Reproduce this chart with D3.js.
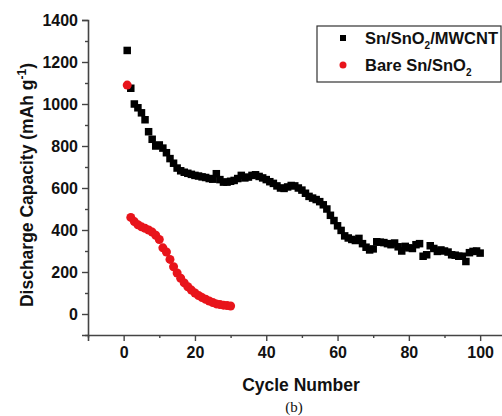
<!DOCTYPE html>
<html>
<head>
<meta charset="utf-8">
<script src="https://d3js.org/d3.v7.min.js"></script>
<style>
body{margin:0;background:#fff;}
svg text{font-family:"Liberation Sans",Arial,sans-serif;}
</style>
</head>
<body>
<svg id="chart" width="502" height="416"></svg>
<script>
// discharge capacity vs cycle
var cyclesMwcnt = d3.range(1, 101);
var capMwcnt = [1255,1075,1000,982,958,925,868,832,800,805,
	790,768,740,718,695,682,675,670,665,660,
	657,653,650,645,642,668,640,628,628,632,
	636,645,660,648,652,660,663,655,648,640,
	630,622,610,600,598,605,612,610,600,590,
	575,560,552,545,535,520,500,470,445,420,
	398,372,362,355,350,360,335,318,305,310,
	344,342,340,335,330,338,320,300,322,315,
	312,330,335,275,282,325,312,298,305,300,
	295,282,280,275,275,250,292,298,300,290];

var cyclesBare = d3.range(1, 31);
var capBare = [1090,460,440,425,415,408,400,390,375,355,
	315,295,260,225,195,170,148,130,114,100,
	88,78,70,62,55,48,45,42,40,38];

var xTicks = [0,20,40,60,80,100];
var yTicks = [0,200,400,600,800,1000,1200,1400];

var svg = d3.select("#chart");
var plotLeft = 88, plotTop = 20, plotBottom = 335;

var x = d3.scaleLinear().domain([-10,110]).range([plotLeft, plotLeft + 120*3.565]);
var y = d3.scaleLinear().domain([-100,1400]).range([plotBottom, plotTop]);

var axisColor = "#444";

// y axis
svg.append("g").attr("transform","translate("+plotLeft+",0)")
	.call(d3.axisLeft(y).tickValues(yTicks).tickSize(6).tickPadding(4).tickFormat(d3.format("d")));
svg.append("g").attr("transform","translate("+plotLeft+",0)")
	.call(d3.axisLeft(y).tickValues(d3.range(-100,1400,200)).tickSize(3).tickFormat(""))
	.select(".domain").remove();

// x axis
svg.append("g").attr("transform","translate(0,"+plotBottom+")")
	.call(d3.axisBottom(x).tickValues(xTicks).tickSize(6).tickPadding(6).tickFormat(d3.format("d")));
svg.append("g").attr("transform","translate(0,"+plotBottom+")")
	.call(d3.axisBottom(x).tickValues(d3.range(-10,111,20)).tickSize(3).tickFormat(""))
	.select(".domain").remove();

svg.selectAll(".domain").attr("stroke",axisColor).attr("stroke-width",1.6);
svg.selectAll(".tick line").attr("stroke",axisColor).attr("stroke-width",1.4);
svg.selectAll(".tick text").attr("fill","#111").style("font-size","16px").style("font-weight","bold")
	.style("font-family","'Liberation Sans',Arial,sans-serif");

// axis titles
svg.append("text").attr("x",301).attr("y",391).attr("text-anchor","middle")
	.style("font-size","17.5px").style("font-weight","bold").attr("fill","#111")
	.text("Cycle Number");

var yl = svg.append("text").attr("transform","translate(33,185) rotate(-90)")
	.attr("text-anchor","middle").style("font-size","17.5px").style("font-weight","bold").attr("fill","#111");
yl.append("tspan").text("Discharge Capacity (mAh g");
yl.append("tspan").attr("dy",-7).style("font-size","12px").text("-1");
yl.append("tspan").attr("dy",7).text(")");

svg.append("text").attr("x",294).attr("y",412).attr("text-anchor","middle")
	.style("font-family","'Liberation Serif','Times New Roman',serif").style("font-size","15px").attr("fill","#111")
	.text("(b)");

// series
var sq = 7.5;
svg.append("g").selectAll("rect")
	.data(cyclesMwcnt)
	.enter().append("rect")
	.attr("x", function(d,i){ return x(d) - sq/2; })
	.attr("y", function(d,i){ return y(capMwcnt[i]) - sq/2; })
	.attr("width", sq).attr("height", sq)
	.attr("fill","#000");

svg.append("g").selectAll("circle")
	.data(cyclesBare)
	.enter().append("circle")
	.attr("cx", function(d){ return x(d); })
	.attr("cy", function(d,i){ return y(capBare[i]); })
	.attr("r", 4.5)
	.attr("fill","#e8141b");

// legend
var lg = svg.append("g");
lg.append("rect").attr("x",317).attr("y",26).attr("width",184).attr("height",56)
	.attr("fill","#fff").attr("stroke","#333").attr("stroke-width",1.2);
lg.append("rect").attr("x",340).attr("y",35).attr("width",6).attr("height",6).attr("fill","#000");
lg.append("circle").attr("cx",343).attr("cy",65).attr("r",3.5).attr("fill","#e8141b");

function legendText(yy, parts){
	var t = lg.append("text").attr("x",365).attr("y",yy)
		.style("font-size","16.5px").style("font-weight","bold").attr("fill","#111");
	parts.forEach(function(p){
		var s = t.append("tspan").text(p[0]);
		if(p[1]=="sub") s.attr("dy",5).style("font-size","10px");
		if(p[1]=="back") s.attr("dy",-5);
	});
}
legendText(44, [["Sn/SnO"],["2","sub"],["/MWCNT","back"]]);
legendText(71, [["Bare Sn/SnO"],["2","sub"]]);
</script>
</body>
</html>
